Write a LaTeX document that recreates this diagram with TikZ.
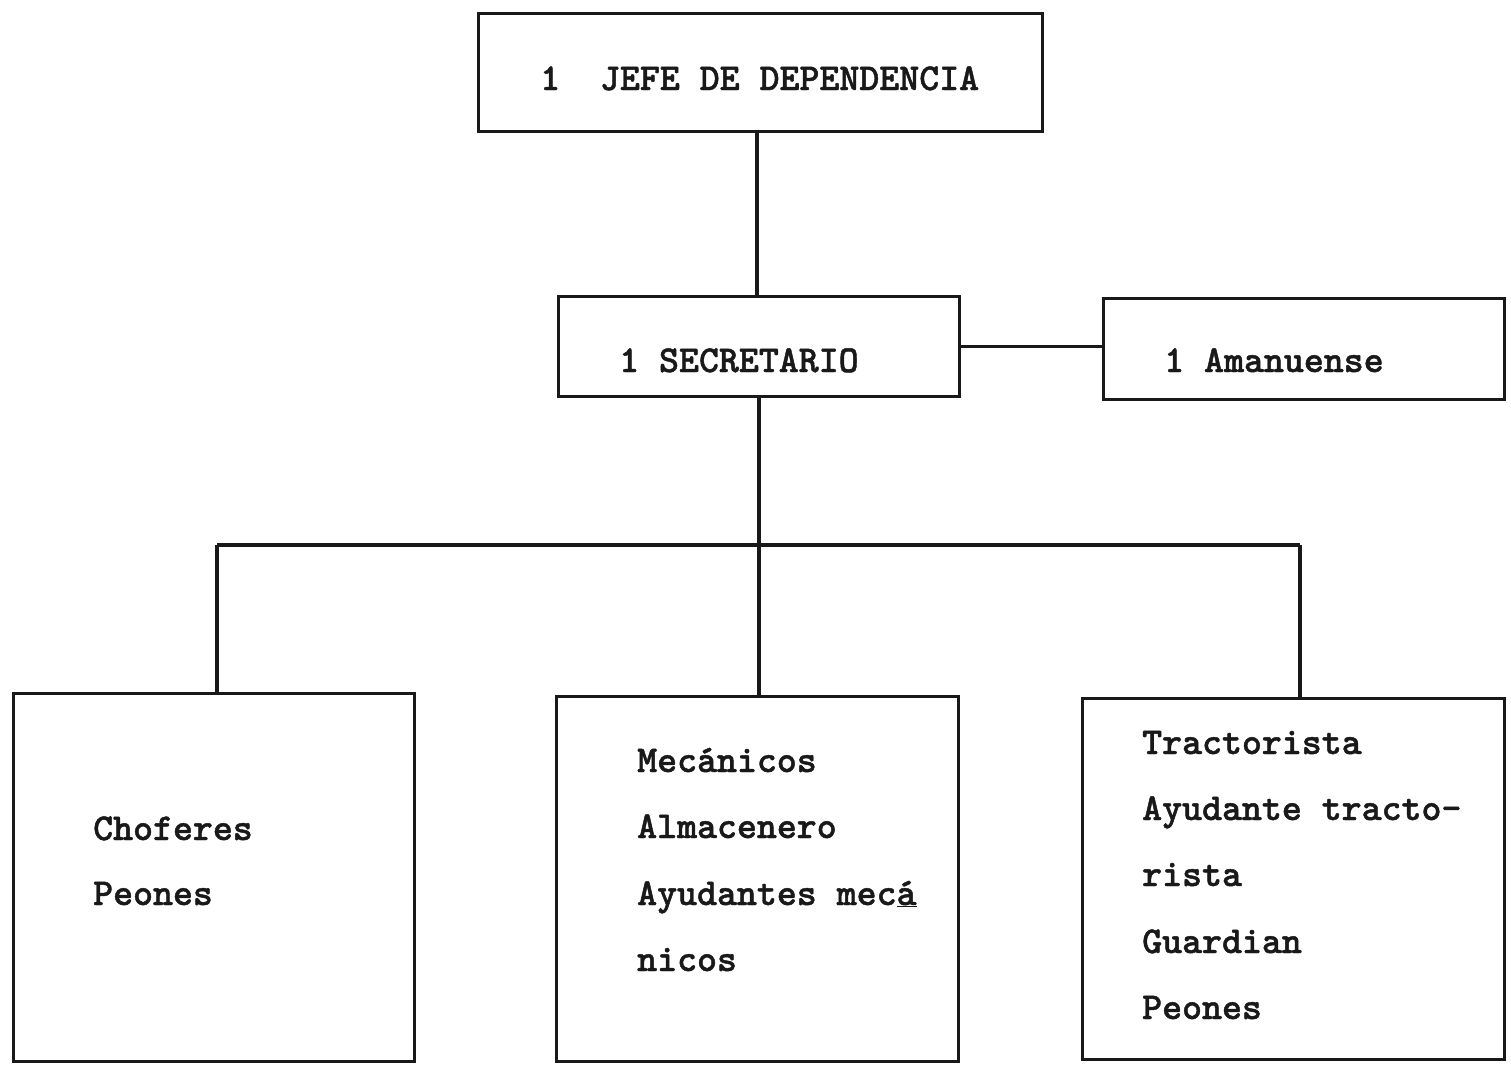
\documentclass[tikz,border=0pt]{standalone}
\usepackage{fontspec}
\newfontfamily\tw{lmmonolt10-bold.otf}[FakeBold=1.2]
\begin{document}
\begin{tikzpicture}[x=1pt,y=-1pt,
  box/.style={draw=black!90, line width=3pt, inner sep=0pt, anchor=north west},
  conn/.style={draw=black!90, line width=3.2pt},
  lbl/.style={anchor=base west, inner sep=0pt, font=\tw\fontsize{38}{44}\selectfont, text=black!90}]
\useasboundingbox[fill=white] (0,0) rectangle (1511,1068);
% boxes
\node[box, minimum width=564pt, minimum height=118pt] (jefe) at (477,12) {};
\node[box, minimum width=401pt, minimum height=100pt] (sec) at (557,295) {};
\node[box, minimum width=401pt, minimum height=101pt] (aman) at (1102,297) {};
\node[box, minimum width=401pt, minimum height=368pt] (c1) at (12,692) {};
\node[box, minimum width=402pt, minimum height=365pt] (c2) at (555,695) {};
\node[box, minimum width=422pt, minimum height=361pt] (c3) at (1081,697) {};
% labels
\node[lbl] (tjefe) at (540,90) {1\ \ JEFE DE DEPENDENCIA};
\node[lbl] (tsec) at (619,372) {1 SECRETARIO};
\node[lbl] (taman) at (1164,372) {1 Amanuense};
\node[lbl] (t11) at (93,840) {Choferes};
\node[lbl] (t12) at (93,905) {Peones};
\node[lbl] (t21) at (637,772) {Mecánicos};
\node[lbl] (t22) at (637,838) {Almacenero};
\node[lbl] (t23) at (637,905) {Ayudantes mec\underline{á}};
\node[lbl] (t24) at (637,971) {nicos};
\node[lbl] (t31) at (1142,754) {Tractorista};
\node[lbl] (t32) at (1142,820) {Ayudante tracto-};
\node[lbl] (t33) at (1142,886) {rista};
\node[lbl] (t34) at (1142,953) {Guardian};
\node[lbl] (t35) at (1142,1019) {Peones};
% connectors
\coordinate (bL) at (217,545);
\coordinate (bR) at (1300,545);
\coordinate (jb) at (757,130);
\draw[conn] (jb) -- (jb |- sec.north);
\draw[conn] (sec.east) -- (sec.east -| aman.west);
\draw[conn] (sec.south) -- (sec.south |- c2.north);
\draw[conn] (bL) -- (bR);
\draw[conn] (bL) -- (bL |- c1.north);
\draw[conn] (bR) -- (bR |- c3.north);
\end{tikzpicture}
\end{document}
